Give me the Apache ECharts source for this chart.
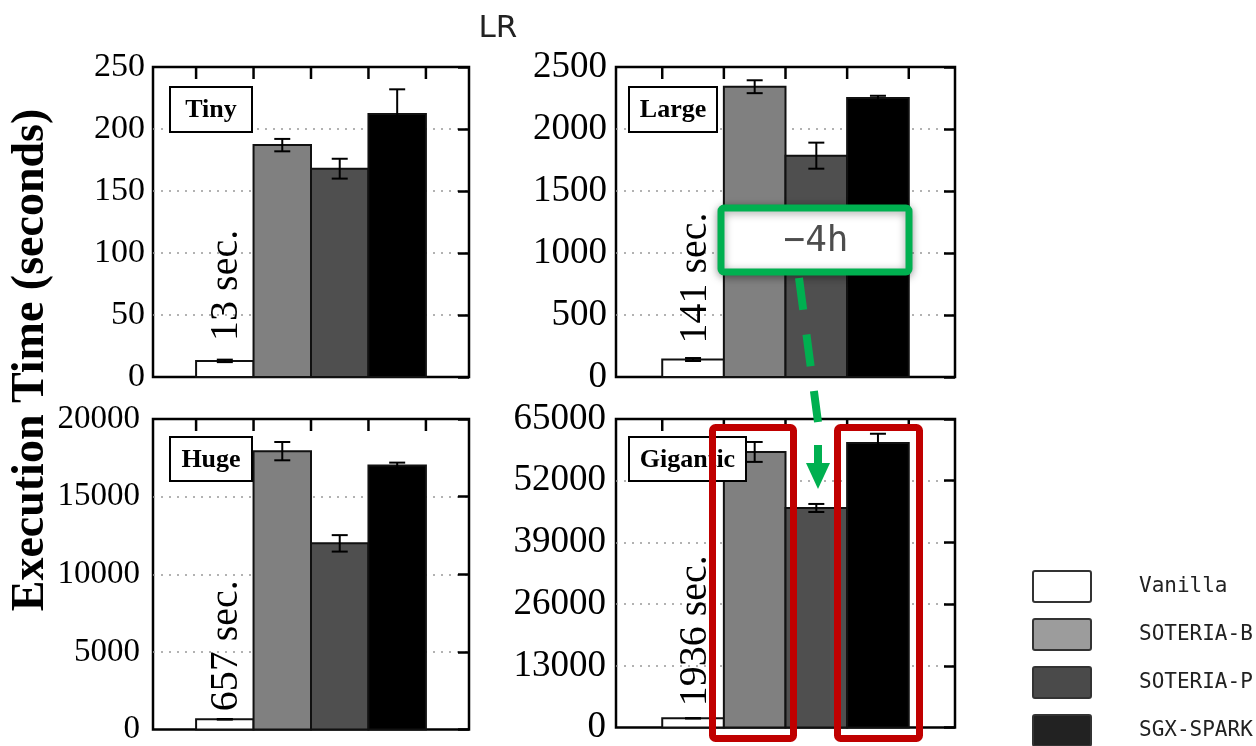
<!DOCTYPE html>
<html>
<head>
<meta charset="utf-8">
<script src="https://cdn.jsdelivr.net/npm/echarts@6/dist/echarts.min.js"></script>
<style>
  html, body { margin: 0; padding: 0; background: #fff; }
  #main { width: 1256px; height: 746px; }
</style>
</head>
<body>
<div id="main"></div>
<script>
// 系统名称
var systems = ['Vanilla', 'SOTERIA-B', 'SOTERIA-P', 'SGX-SPARK'];

// 各数据集的执行时间(秒)与误差
var tinyTime = [13, 187, 168, 212];
var tinyErr = [1, 5, 8, 20];
var largeTime = [141, 2341, 1785, 2250];
var largeErr = [12, 52, 105, 18];
var hugeTime = [657, 17930, 11990, 17010];
var hugeErr = [20, 590, 530, 180];
var giganticTime = [1936, 58060, 46250, 59940];
var giganticErr = [40, 2100, 850, 1950];

// y轴刻度
var tinyTicks = [0, 50, 100, 150, 200, 250];
var largeTicks = [0, 500, 1000, 1500, 2000, 2500];
var hugeTicks = [0, 5000, 10000, 15000, 20000];
var giganticTicks = [0, 13000, 26000, 39000, 52000, 65000];

var barColors = ['#ffffff', '#808080', '#4f4f4f', '#000000'];
var legendColors = ['#ffffff', '#9c9c9c', '#4a4a4a', '#222222'];

var panels = [
    {name: 'Tiny', time: tinyTime, err: tinyErr, ticks: tinyTicks,
     grid: {left: 153, top: 67, width: 316, height: 310}, font: 34, margin: 8, gap: 20, box: [170, 87, 82, 45]},
    {name: 'Large', time: largeTime, err: largeErr, ticks: largeTicks,
     grid: {left: 616, top: 67, width: 339, height: 310}, font: 37, margin: 9, gap: 16, box: [629, 87, 88, 45]},
    {name: 'Huge', time: hugeTime, err: hugeErr, ticks: hugeTicks,
     grid: {left: 153, top: 419, width: 316, height: 312}, font: 33, margin: 13, gap: 8, box: [170, 437, 82, 44]},
    {name: 'Gigantic', time: giganticTime, err: giganticErr, ticks: giganticTicks,
     grid: {left: 616, top: 419, width: 339, height: 312}, font: 37, margin: 10, gap: 12, box: [629, 437, 117, 44]}
];

function makeRender(gap, ymax) {
    return function (params, api) {
        var i = api.value(0), v = api.value(1), e = api.value(2);
        var p0 = api.coord([i, v]);
        var p1 = api.coord([i + 1, 0]);
        var cx = (p0[0] + p1[0]) / 2;
        var hi = api.coord([i + 0.5, v + e])[1];
        var lo = api.coord([i + 0.5, v - e])[1];
        var yTop = api.coord([i, ymax])[1];
        var children = [{
            type: 'rect',
            shape: {x: p0[0], y: p0[1], width: p1[0] - p0[0], height: p1[1] - p0[1]},
            style: {fill: barColors[i], stroke: '#111', lineWidth: 2}
        }, {
            type: 'line', shape: {x1: cx, y1: hi, x2: cx, y2: lo},
            style: {stroke: '#000', lineWidth: 2}
        }, {
            type: 'line', shape: {x1: cx - 8, y1: hi, x2: cx + 8, y2: hi},
            style: {stroke: '#000', lineWidth: 2}
        }, {
            type: 'line', shape: {x1: cx - 8, y1: lo, x2: cx + 8, y2: lo},
            style: {stroke: '#000', lineWidth: 2}
        }, {
            // 顶部刻度(柱子左边界)
            type: 'line', shape: {x1: p0[0], y1: yTop, x2: p0[0], y2: yTop + 12},
            style: {stroke: '#000', lineWidth: 2.5}
        }];
        if (i === 3) {
            children.push({
                type: 'line', shape: {x1: p1[0], y1: yTop, x2: p1[0], y2: yTop + 12},
                style: {stroke: '#000', lineWidth: 2.5}
            });
        }
        if (i === 0) {
            children.push({
                type: 'text', x: cx + 2, y: p0[1] - gap, rotation: Math.PI / 2,
                style: {
                    text: v + ' sec.', fill: '#000',
                    font: '40px "Liberation Serif", serif',
                    align: 'left', verticalAlign: 'middle',
                    textAlign: 'left', textVerticalAlign: 'middle'
                }
            });
        }
        return {type: 'group', children: children};
    };
}

var grids = [], xAxes = [], yAxes = [], series = [], graphics = [];
panels.forEach(function (p, k) {
    grids.push({left: p.grid.left, top: p.grid.top, width: p.grid.width, height: p.grid.height,
        show: true, borderColor: '#000', borderWidth: 2.5});
    xAxes.push({
        type: 'value', gridIndex: k, min: -0.75, max: 4.75, show: false
    });
    var ymax = p.ticks[p.ticks.length - 1];
    var step = p.ticks[1] - p.ticks[0];
    yAxes.push({
        type: 'value', gridIndex: k, min: 0, max: ymax, interval: step, position: 'left',
        axisLine: {show: false, onZero: false}, axisTick: {show: false},
        axisLabel: {color: '#000', fontFamily: 'Liberation Serif', fontSize: p.font, margin: p.margin,
            formatter: function (val) { return String(val); }},
        splitLine: {show: true, showMinLine: false, showMaxLine: false,
            lineStyle: {color: '#999', type: [2, 6], width: 1.5}}
    });
    yAxes.push({
        type: 'value', gridIndex: k, min: 0, max: ymax, interval: step, position: 'right',
        axisLine: {show: false, onZero: false},
        axisTick: {show: true, inside: true, length: 11, lineStyle: {color: '#000', width: 2.5}},
        axisLabel: {show: false}, splitLine: {show: false}
    });
    series.push({
        type: 'custom', name: p.name, xAxisIndex: k, yAxisIndex: 2 * k,
        renderItem: makeRender(p.gap, ymax),
        data: p.time.map(function (t, i) { return [i, t, p.err[i]]; }),
        z: 3
    });
    graphics.push(
        {type: 'rect', z: 50, shape: {x: p.box[0], y: p.box[1], width: p.box[2], height: p.box[3]},
         style: {fill: '#fff', stroke: '#000', lineWidth: 2}},
        {type: 'text', z: 51, x: p.box[0] + p.box[2] / 2, y: p.box[1] + p.box[3] / 2 + 1,
         style: {text: p.name, fill: '#000', font: 'bold 26px "Liberation Serif", serif',
                 align: 'center', verticalAlign: 'middle'}}
    );
});

// 图例
systems.forEach(function (s, i) {
    var y = 571 + i * 48;
    graphics.push({type: 'rect', z: 60, shape: {x: 1033, y: y, width: 58, height: 31, r: 2},
        style: {fill: legendColors[i], stroke: '#333', lineWidth: 2}});
    graphics.push({type: 'text', z: 60, x: 1139, y: y + 16,
        style: {text: s, fill: '#222', font: '21px "DejaVu Sans Mono", monospace', verticalAlign: 'middle'}});
});

// 标注
graphics.push(
    {type: 'text', z: 60, x: 31, y: 360, rotation: Math.PI / 2,
     style: {text: 'Execution Time (seconds)', fill: '#000',
             font: 'bold 46px "Liberation Serif", serif', align: 'center', verticalAlign: 'middle'}},
    {type: 'text', z: 60, x: 498, y: 29,
     style: {text: 'LR', fill: '#222', font: '31px "DejaVu Sans", sans-serif',
             align: 'center', verticalAlign: 'middle'}},
    {type: 'rect', z: 70, shape: {x: 721, y: 208, width: 188, height: 64, r: 3},
     style: {fill: '#fff', stroke: '#00b050', lineWidth: 7,
             shadowBlur: 8, shadowColor: 'rgba(0,0,0,0.35)', shadowOffsetY: 2}},
    {type: 'text', z: 71, x: 816, y: 242,
     style: {text: '\u22124h', fill: '#4d4d4d', font: '36px "DejaVu Sans Mono", monospace',
             align: 'center', verticalAlign: 'middle'}},
    {type: 'polyline', z: 70, shape: {points: [[799, 278], [818, 422]]},
     style: {stroke: '#00b050', lineWidth: 8, lineDash: [32, 25], fill: null}},
    {type: 'line', z: 70, shape: {x1: 818, y1: 445, x2: 818, y2: 466},
     style: {stroke: '#00b050', lineWidth: 8}},
    {type: 'polygon', z: 70, shape: {points: [[806, 463], [830, 463], [818, 489]]},
     style: {fill: '#00b050'}},
    {type: 'rect', z: 80, shape: {x: 712.5, y: 427.5, width: 81, height: 311, r: 3},
     style: {fill: null, stroke: '#c00000', lineWidth: 7}},
    {type: 'rect', z: 80, shape: {x: 837.5, y: 427.5, width: 82, height: 311, r: 3},
     style: {fill: null, stroke: '#c00000', lineWidth: 7}}
);

var myChart = echarts.init(document.getElementById('main'));
var option = {
    animation: false,
    backgroundColor: '#fff',
    grid: grids,
    xAxis: xAxes,
    yAxis: yAxes,
    series: series,
    graphic: graphics
};
myChart.setOption(option);
window.onresize = myChart.resize;
</script>
</body>
</html>
